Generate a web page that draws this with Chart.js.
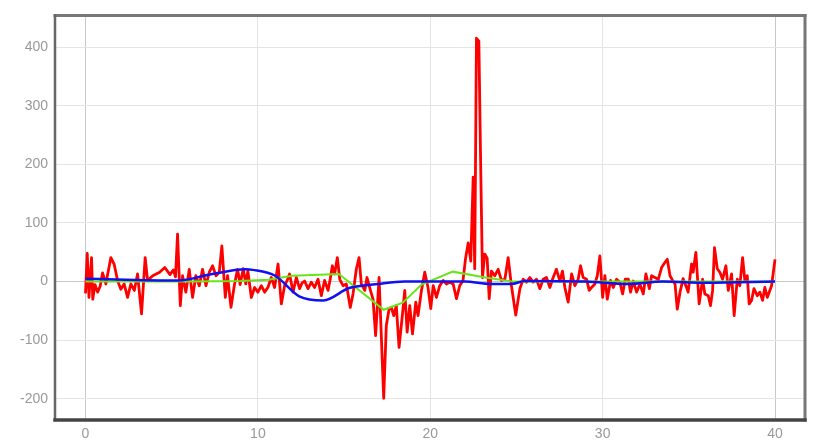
<!DOCTYPE html>
<html>
<head>
<meta charset="utf-8">
<script src="https://cdn.jsdelivr.net/npm/chart.js@4"></script>
<style>
  body { margin: 0; background: #fff; }
</style>
</head>
<body>
<canvas id="myChart" width="817" height="446"></canvas>
<script>
// tick labels
const xTicks = [0, 10, 20, 30, 40];
const yTicks = [-200, -100, 0, 100, 200, 300, 400];

// raw signal (red)
const redX = [0, 0.1, 0.2, 0.35, 0.42, 0.55, 0.7, 0.85, 0.99, 1.18, 1.47, 1.66, 1.86, 2.05, 2.24, 2.44, 2.63, 2.83, 3.02, 3.25,
  3.46, 3.6, 3.9, 4.3, 4.6, 4.9, 5.1, 5.22, 5.34, 5.5, 5.63, 5.82, 6.02, 6.21, 6.4, 6.6, 6.79, 6.99, 7.18, 7.37,
  7.57, 7.76, 7.91, 8.11, 8.24, 8.44, 8.63, 8.82, 8.97, 9.15, 9.3, 9.42, 9.62, 9.81, 10.0, 10.2, 10.39, 10.58, 10.78, 10.97,
  11.17, 11.36, 11.55, 11.7, 11.84, 12.04, 12.23, 12.42, 12.57, 12.71, 12.91, 13.1, 13.29, 13.49, 13.68, 13.87, 14.07, 14.2, 14.32, 14.45,
  14.61, 14.75, 14.94, 15.13, 15.36, 15.52, 15.71, 15.87, 16.0, 16.2, 16.33, 16.53, 16.68, 16.83, 17.03, 17.3, 17.45, 17.61, 17.74, 17.88,
  18.03, 18.19, 18.32, 18.42, 18.52, 18.66, 18.81, 18.97, 19.16, 19.29, 19.49, 19.68, 19.87, 20.03, 20.17, 20.36, 20.55, 20.75, 20.94, 21.13,
  21.33, 21.52, 21.71, 21.9, 22.05, 22.2, 22.35, 22.49, 22.58, 22.68, 22.82, 22.93, 23.03, 23.16, 23.3, 23.42, 23.55, 23.74, 23.94, 24.13,
  24.33, 24.52, 24.71, 24.96, 25.2, 25.39, 25.58, 25.78, 25.97, 26.16, 26.36, 26.55, 26.74, 26.94, 27.13, 27.32, 27.52, 27.67, 27.81, 28.0,
  28.2, 28.39, 28.58, 28.72, 28.87, 29.07, 29.22, 29.36, 29.55, 29.69, 29.84, 30.0, 30.13, 30.27, 30.46, 30.62, 30.81, 31.0, 31.16, 31.31,
  31.49, 31.62, 31.78, 31.97, 32.16, 32.36, 32.51, 32.71, 32.84, 33.03, 33.23, 33.42, 33.62, 33.75, 33.91, 34.06, 34.2, 34.33, 34.49, 34.67,
  34.87, 34.96, 35.16, 35.25, 35.41, 35.6, 35.8, 35.93, 36.13, 36.26, 36.38, 36.49, 36.65, 36.8, 36.96, 37.15, 37.29, 37.48, 37.63, 37.81,
  37.96, 38.12, 38.25, 38.39, 38.5, 38.64, 38.78, 38.97, 39.12, 39.28, 39.41, 39.55, 39.7, 39.8, 40.0];
const redY = [-20, 48, -27, 41, -30, -5, -18, -8, 15, -4, 41, 30, 2, -13, -4, -27, -4, -15, 13, -55,
  41, 2, 10, 16, 24, 12, 20, 8, 81, -41, 10, -18, 21, -27, 10, -7, 21, -7, 16, 27,
  10, 16, 61, -27, 10, -44, -7, 21, -5, 22, -4, 18, -27, -10, -18, -7, -18, -10, 7, -10,
  30, -38, -7, 2, 13, -18, 7, -12, -2, 1, -12, -1, -10, 4, -24, 2, -15, 5, 27, 13,
  41, 4, -7, -4, -44, -21, 21, 41, -4, -15, 7, -15, -30, -92, 7, -199, -75, -47, -44, -58,
  -41, -112, -75, -46, -15, -86, -41, -89, -35, -58, -15, 16, -10, -46, -7, -27, -7, 2, -4, -1,
  -4, -29, -7, 2, 40, 66, 35, 178, 22, 415, 410, 189, 7, 47, 40, -29, 18, 10, 21, 2,
  4, 41, -7, -57, -12, 4, -1, 7, -1, 4, -12, 4, 7, -10, 7, 21, 1, 18, -10, -35,
  13, -7, 4, 27, 7, 4, -15, -10, -4, 10, 44, -27, 10, -30, 2, -10, 4, -1, -21, 4,
  4, -18, 1, -18, -4, -21, 13, -12, 10, 7, 4, 24, 33, 38, 10, 2, -4, -47, -18, 5,
  -10, -18, 30, 16, 50, -38, 4, -21, -24, -41, -15, 58, 22, 16, 4, 27, -15, 13, -58, 4,
  -7, 41, 2, 10, -38, -32, -12, -24, -18, -32, -10, -27, -15, -7, 38];

// smoothed (green)
const greenX = [0, 3, 6, 9, 10.6, 12, 14.7, 17.3, 18.4, 19.5, 21.3, 23.2, 24.8, 27, 30, 33, 36, 40];
const greenY = [0, 0, 0, 1, 3, 10, 13, -48, -36, -5, 17, 7, 0, 0, 0, 0, 0, 0];

// smoothed (blue)
const blueX = [0, 5.4, 7.2, 9.3, 9.7, 11, 12.4, 13.8, 15.3, 17, 18.5, 22, 23.5, 24.7, 25.5, 29, 31.5, 33.5, 36, 40];
const blueY = [5, 2, 12, 21, 20, 10, -25, -32, -11, -4, 0, 0, -4, -4, 1, 0, -4, 0, -2, 0];

function toPoints(xs, ys) {
  return xs.map(function (x, i) { return { x: x, y: ys[i] }; });
}

const frame = {
  id: 'frame',
  afterDraw: function (chart) {
    const c = chart.ctx;
    const a = chart.chartArea;
    c.save();
    c.lineCap = 'square';
    c.strokeStyle = '#777';
    c.lineWidth = 3;
    c.beginPath(); c.moveTo(a.left, a.top); c.lineTo(a.right, a.top); c.stroke();
    c.beginPath(); c.moveTo(a.right, a.top); c.lineTo(a.right, a.bottom); c.stroke();
    c.lineWidth = 2.5;
    c.strokeStyle = '#666';
    c.beginPath(); c.moveTo(a.left, a.top); c.lineTo(a.left, a.bottom); c.stroke();
    c.lineWidth = 3.5;
    c.strokeStyle = '#444';
    c.beginPath(); c.moveTo(a.left, a.bottom); c.lineTo(a.right, a.bottom); c.stroke();
    c.restore();
  }
};

const ctx = document.getElementById('myChart');

new Chart(ctx, {
  type: 'line',
  data: {
    datasets: [{
      data: toPoints(blueX, blueY),
      borderColor: '#1010f0',
      borderWidth: 2.5,
      pointRadius: 0,
      cubicInterpolationMode: 'monotone',
      order: 0
    }, {
      data: toPoints(greenX, greenY),
      borderColor: '#66e619',
      borderWidth: 2,
      pointRadius: 0,
      order: 1
    }, {
      data: toPoints(redX, redY),
      borderColor: '#ff0000',
      borderWidth: 2.8,
      borderJoinStyle: 'round',
      pointRadius: 0,
      order: 2
    }]
  },
  options: {
    responsive: false,
    animation: false,
    layout: { padding: { top: 14, right: 12, left: 0, bottom: 0 } },
    plugins: { legend: { display: false }, tooltip: { enabled: false } },
    scales: {
      x: {
        type: 'linear',
        min: -1.77,
        max: 41.74,
        afterBuildTicks: function (scale) {
          scale.ticks = xTicks.map(function (v) { return { value: v }; });
        },
        afterFit: function (scale) { scale.height = 26; },
        border: { display: false },
        grid: {
          drawTicks: false,
          lineWidth: 1,
          color: function (c) {
            const v = c.tick && c.tick.value;
            return (v === 0 || v === 40) ? '#c8c8c8' : '#e4e4e4';
          }
        },
        ticks: {
          padding: 6,
          color: '#999',
          font: { family: 'Liberation Sans', size: 14 }
        }
      },
      y: {
        min: -236,
        max: 454,
        afterBuildTicks: function (scale) {
          scale.ticks = yTicks.map(function (v) { return { value: v }; });
        },
        afterFit: function (scale) { scale.width = 55; },
        border: { display: false },
        grid: {
          drawTicks: false,
          lineWidth: 1,
          color: function (c) {
            return (c.tick && c.tick.value === 0) ? '#c8c8c8' : '#e4e4e4';
          }
        },
        ticks: {
          padding: 7,
          color: '#999',
          font: { family: 'Liberation Sans', size: 14 }
        }
      }
    }
  },
  plugins: [frame]
});
</script>
</body>
</html>
